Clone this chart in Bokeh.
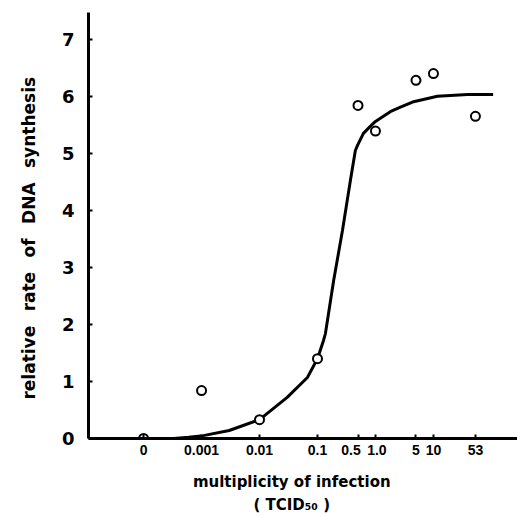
import numpy as np
from bokeh.plotting import figure
from bokeh.models import FixedTicker, Range1d
from bokeh.embed import file_html
from bokeh.resources import INLINE

# ---- data ----
moi_labels = ["0", "0.001", "0.01", "0.1", "0.5", "1.0", "5", "10", "53"]
moi = [0, 0.001, 0.01, 0.1, 0.5, 1.0, 5, 10, 53]
rate = [0.0, 0.84, 0.33, 1.40, 5.84, 5.39, 6.28, 6.40, 5.65]

curve_moi = [0.00033, 0.0006, 0.00107, 0.003, 0.01, 0.030, 0.067, 0.1, 0.127,
             0.137, 0.19, 0.27, 0.37, 0.45, 0.49, 0.62, 0.79, 1.0, 1.8, 2.7,
             4.35, 11.7, 39, 107]
curve_rate = [0.0, 0.02, 0.05, 0.14, 0.33, 0.72, 1.07, 1.40, 1.72,
              1.84, 2.77, 3.65, 4.53, 5.05, 5.14, 5.35, 5.46, 5.56, 5.73, 5.81,
              5.90, 6.00, 6.03, 6.03]

y_ticks = [0, 1, 2, 3, 4, 5, 6, 7]

ZERO_POS = -4.0  # where the "0" dose is placed on the log axis


def pos(m):
    return float(np.log10(m)) if m > 0 else ZERO_POS


x_pts = [pos(m) for m in moi]
x_curve = [pos(m) for m in curve_moi]

FONT = "DejaVu Sans"
SP = " \u2002"  # wide word spacing as in the original typesetting

p = figure(width=517, height=517, output_backend="svg", toolbar_location=None,
           x_range=Range1d(-4.95, 2.45), y_range=Range1d(0, 7.47),
           min_border_left=88, min_border_right=0, min_border_top=12,
           min_border_bottom=79)
p.outline_line_color = None
p.grid.grid_line_color = None
p.background_fill_color = "white"

p.line(x_curve, curve_rate, line_color="black", line_width=3)
p.scatter(x_pts, rate, size=9, fill_color="white", line_color="black", line_width=2)

for ax in (p.xaxis[0], p.yaxis[0]):
    ax.axis_line_width = 3
    ax.axis_line_color = "black"
    ax.major_tick_in = 4
    ax.major_tick_out = 0
    ax.major_tick_line_width = 2
    ax.minor_tick_line_color = None
    ax.major_label_text_font = FONT
    ax.major_label_text_font_style = "bold"
    ax.major_label_text_color = "black"
    ax.axis_label_text_font = FONT
    ax.axis_label_text_font_style = "bold"
    ax.axis_label_text_color = "black"

p.yaxis.ticker = FixedTicker(ticks=y_ticks)
p.yaxis.major_label_text_font_size = "18px"
p.yaxis.major_label_standoff = 14
p.yaxis.axis_label = SP.join(["relative", "rate", "of", "DNA", "synthesis"]) + "\u2002" * 3
p.yaxis.axis_label_text_font_size = "17px"
p.yaxis.axis_label_standoff = 20

# the hand-drawn axis sets "0.5" a little left of a true log position
label_text = {"0.5": "0.5\u2003", "1.0": "\u20091.0"}
p.xaxis.ticker = FixedTicker(ticks=x_pts)
p.xaxis.major_label_overrides = {x: label_text.get(lab, lab)
                                 for x, lab in zip(x_pts, moi_labels)}
p.xaxis.major_label_text_font = "Liberation Sans"
p.xaxis.major_label_text_font_size = "14px"
p.xaxis.major_label_standoff = 3
pad = "\u2002" * 3
p.xaxis.axis_label = ("multiplicity of infection" + pad + "\n"
                      + "( TCID\u2085\u2080 )" + pad)
p.xaxis.axis_label_text_font_size = "15px"
p.xaxis.axis_label_text_line_height = 1.3
p.xaxis.axis_label_standoff = 12

open("out.html", "w").write(file_html(p, INLINE))
